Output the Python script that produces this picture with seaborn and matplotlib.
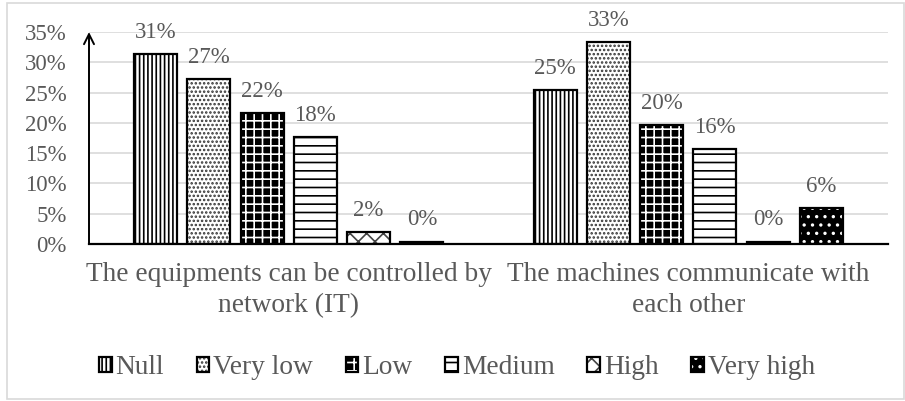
import matplotlib
matplotlib.use("Agg")
import matplotlib.pyplot as plt
from matplotlib.patches import Rectangle
from matplotlib.legend_handler import HandlerTuple
import seaborn as sns
import pandas as pd

# ---- data ----
categories = ["The equipments can be controlled by\nnetwork (IT)",
              "The machines communicate with\neach other"]
levels = ["Null", "Very low", "Low", "Medium", "High", "Very high"]
equipments_values = [31.4, 27.3, 21.6, 17.7, 1.9, 0.4]
machines_values = [25.4, 33.3, 19.6, 15.7, 0.4, 5.9]
y_ticks = [0, 5, 10, 15, 20, 25, 30, 35]

rows = []
for cat, vals in zip(categories, [equipments_values, machines_values]):
    for lev, v in zip(levels, vals):
        rows.append({"category": cat, "level": lev, "value": v})
df = pd.DataFrame(rows)

# styles per level: (face, hatch colour, hatch)
styles = {
    "Null": ("white", "black", "||||"),
    "Very low": ("white", "#333333", "...."),
    "Low": ("black", "white", "++"),
    "Medium": ("white", "black", "--"),
    "High": ("white", "#444444", "xx"),
    "Very high": ("black", "white", ".."),
}

sns.set_style("white")
plt.rcParams["font.family"] = ["Liberation Serif", "DejaVu Serif"]
plt.rcParams["hatch.linewidth"] = 1.2
TXT = "#595959"
FS = 16.5
FS_BIG = 19.7

fig = plt.figure(figsize=(9.05, 4.01), dpi=100)
ax = fig.add_axes([89 / 905, (401 - 244) / 401, (888 - 89) / 905, (244 - 32) / 401])

palette = {lev: "white" for lev in levels}
# hatch layer
sns.barplot(data=df, x="category", y="value", hue="level", order=categories,
            hue_order=levels, palette=palette, width=0.8, gap=0.19,
            legend=False, ax=ax, errorbar=None)
n_hatch = len(ax.containers)
# outline layer
sns.barplot(data=df, x="category", y="value", hue="level", order=categories,
            hue_order=levels, palette=palette, width=0.8, gap=0.19, fill=False,
            legend=False, ax=ax, errorbar=None)

hatch_conts = ax.containers[:n_hatch]
outline_conts = ax.containers[n_hatch:]
handles = []
for lev, hc, oc in zip(levels, hatch_conts, outline_conts):
    face, hcol, hatch = styles[lev]
    for p in hc.patches:
        p.set_facecolor(face)
        p.set_edgecolor(hcol)
        p.set_hatch(hatch)
        p.set_linewidth(0)
    for p in oc.patches:
        p.set_facecolor("none")
        p.set_edgecolor("black")
        p.set_linewidth(1.6)
        p.set_zorder(3)
    handles.append((hc.patches[0], oc.patches[0]))
    ax.bar_label(oc, labels=[f"{v:.0f}%" for v in oc.datavalues], padding=8,
                 fontsize=FS, color=TXT)

ax.set_ylim(0, 35)
ax.set_xlim(-0.5, 1.5)
ax.set_yticks(y_ticks)
ax.set_yticklabels([f"{t}%" for t in y_ticks])
ax.yaxis.grid(True, color="#d9d9d9", linewidth=1.2)
ax.set_axisbelow(True)
ax.set_xlabel("")
ax.set_ylabel("")
ax.tick_params(axis="y", length=0, pad=16, labelsize=FS, labelcolor=TXT)
ax.tick_params(axis="x", length=0, pad=13, labelsize=FS_BIG, labelcolor=TXT)
for lab in ax.get_xticklabels():
    lab.set_linespacing(1.32)
for s in ["top", "right", "left"]:
    ax.spines[s].set_visible(False)
ax.spines["bottom"].set_color("black")
ax.spines["bottom"].set_linewidth(1.6)
ax.spines["bottom"].set_zorder(4)
ax.annotate("", xy=(0, 1), xytext=(0, 0), xycoords="axes fraction",
            arrowprops=dict(arrowstyle="->", color="black", lw=1.4,
                            mutation_scale=18, shrinkA=0, shrinkB=0),
            annotation_clip=False)

fig.legend(handles, levels, handler_map={tuple: HandlerTuple(ndivide=1, pad=0)},
           loc="center", bbox_to_anchor=(0.505, (401 - 368) / 401), ncol=6,
           frameon=False, fontsize=FS_BIG, labelcolor=TXT, handlelength=0.45,
           handleheight=0.45, handletextpad=0.15, columnspacing=1.2)

fig.patches.append(Rectangle((7 / 905, 2 / 401), 897 / 905, 396 / 401,
                             transform=fig.transFigure, fill=False,
                             edgecolor="#d9d9d9", linewidth=1.2))

fig.savefig("out.png", dpi=100)
